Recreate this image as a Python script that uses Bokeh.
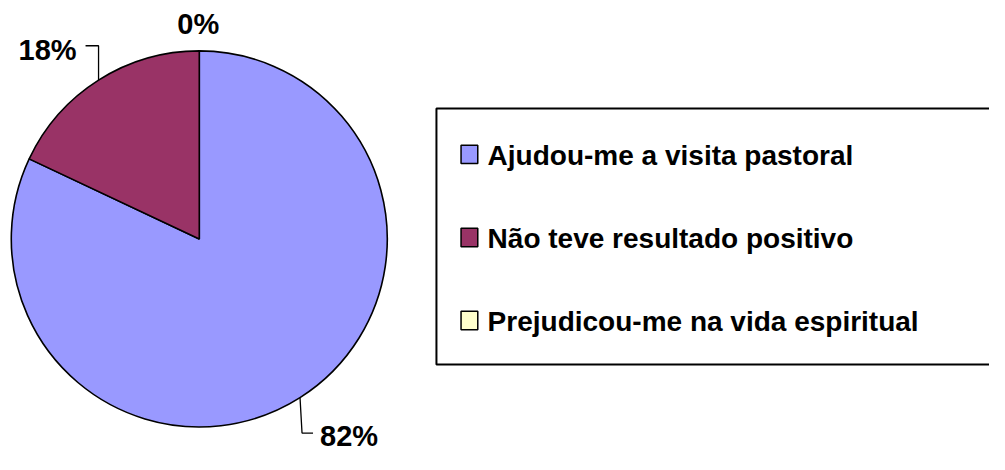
import math
from bokeh.plotting import figure
from bokeh.models import Range1d, ColumnDataSource
from bokeh.core.properties import value
from bokeh.embed import file_html
from bokeh.resources import INLINE

# ---- data ----
categories = ["Ajudou-me a visita pastoral",
              "Não teve resultado positivo",
              "Prejudicou-me na vida espiritual"]
percent = [82, 18, 0]
pct_labels = ["82%", "18%", "0%"]
colors = ["#9999FF", "#993366", "#FFFFCC"]

# ---- layout ----
W, H = 989, 454
KX, KY = W / 1005.0, H / 470.0
FONT = "Liberation Sans"
TXT_DY = 9  # correction for rendered text baseline
SHIFT = 5   # lift everything slightly so the bottom label is not clipped


def fx(x):  # reference pixel x -> figure x
    return x * KX


def fy(y):  # reference pixel y (down) -> figure y (up)
    return H - y * KY + SHIFT


cx, cy, R = fx(202), fy(252), 188

p = figure(width=W, height=H, output_backend="svg", toolbar_location=None,
           x_range=Range1d(0, W), y_range=Range1d(0, H),
           x_axis_type=None, y_axis_type=None, min_border=0,
           outline_line_color=None, background_fill_color="white",
           border_fill_color="white")
p.grid.visible = False

total = float(sum(percent))
starts, ends, mids = [], [], []
cum = 0.0
for v in percent:
    a0 = math.pi / 2 - 2 * math.pi * cum / total
    cum += v
    a1 = math.pi / 2 - 2 * math.pi * cum / total
    starts.append(a0)
    ends.append(a1)
    mids.append((a0 + a1) / 2)

idx = [i for i, v in enumerate(percent) if v > 0]
src = ColumnDataSource(dict(
    x=[cx] * len(idx), y=[cy] * len(idx),
    start=[starts[i] for i in idx], end=[ends[i] for i in idx],
    color=[colors[i] for i in idx]))
p.wedge(x="x", y="y", radius=R, radius_units="screen",
        start_angle="start", end_angle="end", direction="clock",
        fill_color="color", line_color="black", line_width=1.6, source=src)

# ---- percentage labels with leader lines ----
anchors = [(cx + R * math.cos(m), cy + R * math.sin(m)) for m in mids]
LBL = "29px"

# 82% label (bottom right)
ax, ay = anchors[0]
p.line([ax, ax + 2, ax + 13], [ay, fy(453), fy(453)], line_color="black", line_width=1.3)
p.text(x=[ax + 20], y=[fy(465) + TXT_DY], text=[pct_labels[0]], text_font=value(FONT),
       text_font_size=LBL, text_font_style="bold", text_align="left",
       text_baseline="alphabetic", text_color="black")

# 18% label (top left)
ax, ay = anchors[1]
p.line([ax, ax, ax - 13], [ay, fy(52), fy(52)], line_color="black", line_width=1.3)
p.text(x=[ax - 22], y=[fy(66) + TXT_DY], text=[pct_labels[1]], text_font=value(FONT),
       text_font_size=LBL, text_font_style="bold", text_align="right",
       text_baseline="alphabetic", text_color="black")

# 0% label (top)
ax, ay = anchors[2]
p.text(x=[ax - 1], y=[fy(39) + TXT_DY], text=[pct_labels[2]], text_font=value(FONT),
       text_font_size=LBL, text_font_style="bold", text_align="center",
       text_baseline="alphabetic", text_color="black")

# ---- legend ----
p.quad(left=[fx(443)], right=[fx(1030)], top=[fy(117)], bottom=[fy(382)],
       fill_color="white", line_color="black", line_width=2)

row_gap = 86
base_y = [fy(175 + i * row_gap) + TXT_DY for i in range(len(categories))]
sq_y = [fy(164.5 + i * row_gap) for i in range(len(categories))]
leg = ColumnDataSource(dict(
    sx=[fx(476.5)] * len(categories), sy=sq_y,
    tx=[fx(495)] * len(categories), ty=base_y,
    label=categories, color=colors))
p.rect(x="sx", y="sy", width=17 * KX, height=19 * KY, fill_color="color",
       line_color="black", line_width=1.5, source=leg)
p.text(x="tx", y="ty", text="label", text_font=value(FONT),
       text_font_size="28px", text_font_style="bold", text_align="left",
       text_baseline="alphabetic", text_color="black", source=leg)

open("out.html", "w").write(file_html(p, INLINE))
